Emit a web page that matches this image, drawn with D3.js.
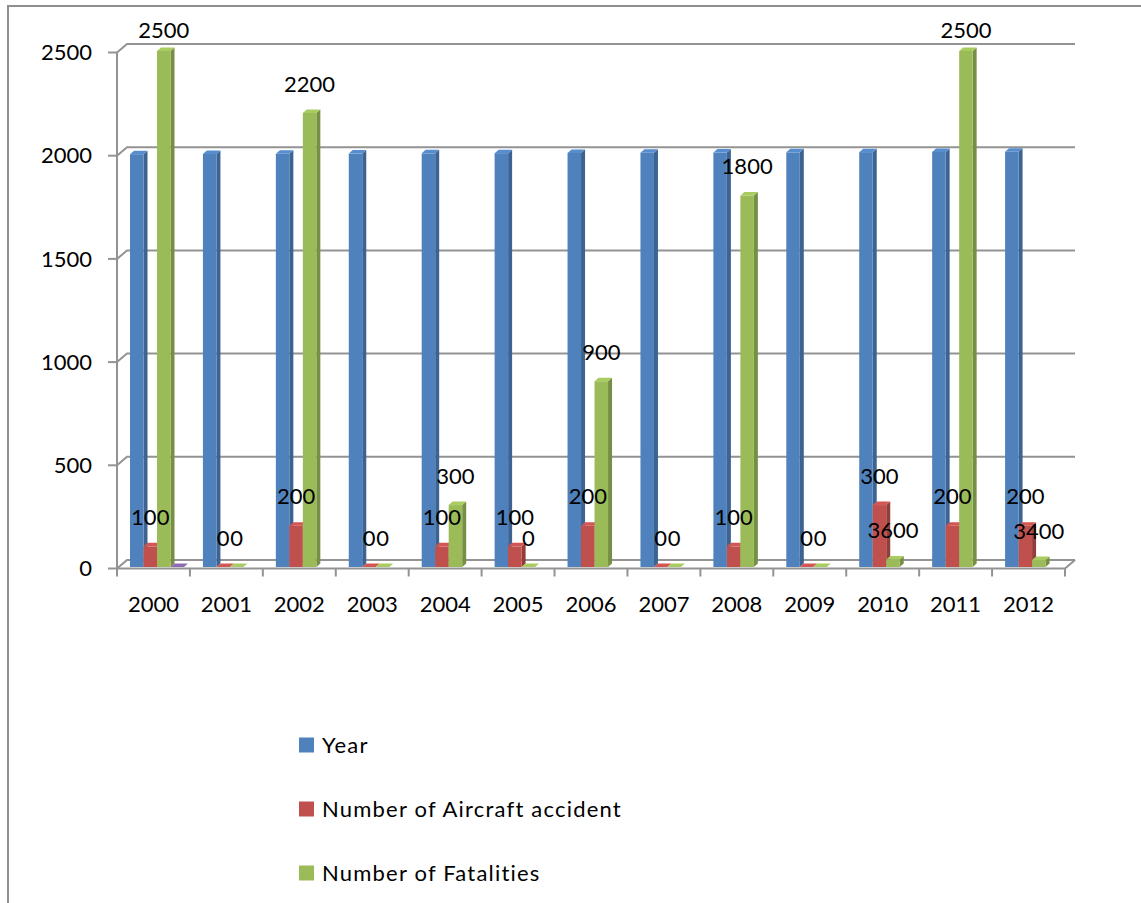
<!DOCTYPE html>
<html>
<head>
<meta charset="utf-8">
<script src="https://cdn.jsdelivr.net/npm/d3@7"></script>
<style>
  html, body { margin: 0; padding: 0; background: #fff; }
  svg { display: block; font-family: Lato, "Open Sans", sans-serif; }
</style>
</head>
<body>
<svg id="chart" width="1141" height="903"></svg>
<script>
// Aircraft accidents and fatalities per year
const years = ["2000","2001","2002","2003","2004","2005","2006","2007","2008","2009","2010","2011","2012"];
const yearValues = [2000,2001,2002,2003,2004,2005,2006,2007,2008,2009,2010,2011,2012];
const accidents = [100,0,200,0,100,100,200,0,100,0,300,200,200];
const fatalities = [2500,0,2200,0,300,0,900,0,1800,0,36,2500,34];
const fatalityLabels = ["2500","0","2200","0","300","0","900","0","1800","0","3600","2500","3400"];
const unnamedSeries = [0,null,null,null,null,null,null,null,null,null,null,null,null];
const yTicks = [0,500,1000,1500,2000,2500];
const seriesNames = ["Year","Number of Aircraft accident","Number of Fatalities"];
const seriesColors = ["#4F81BD","#C0504D","#9BBB59","#8064A2"];

const svg = d3.select("#chart");

// chart-area border (left and top edges visible)
svg.append("path")
  .attr("d", "M8,903 L8,6 L1141,6")
  .attr("fill", "none").attr("stroke", "#8f8f8f").attr("stroke-width", 2);

// front plane scales
const x = d3.scaleBand().domain(years).range([117, 1065]);
const y = d3.scaleLinear().domain([0, 2500]).range([568.5, 52.5]);
const slot = d3.scaleBand().domain([0,1,2,3]).range([13, 67]);

// depth offsets: wall depth and bar depth
const wallDX = 10, wallDY = -8.5;
const faceDX = 0, faceDY = -1.5;
const barDX = 4, barDY = -3.5;
const gridColor = "#939393";

const x0 = x.range()[0], x1 = x.range()[1];

// back-wall gridlines + side-wall diagonals
const grid = svg.append("g");
yTicks.forEach(v => {
  const yf = y(v);
  grid.append("path")
    .attr("d", `M${x0},${yf} L${x0 + wallDX},${yf + wallDY} L${x1 + wallDX},${yf + wallDY}`)
    .attr("fill", "none").attr("stroke", gridColor).attr("stroke-width", 2);
});
// floor front edge and right edge
grid.append("path")
  .attr("d", `M${x0},${y(0)} L${x1},${y(0)} L${x1 + wallDX},${y(0) + wallDY}`)
  .attr("fill", "none").attr("stroke", gridColor).attr("stroke-width", 2);
// value axis line
grid.append("line")
  .attr("x1", x0).attr("x2", x0).attr("y1", y(2500)).attr("y2", y(0))
  .attr("stroke", gridColor).attr("stroke-width", 2);

// value axis ticks and labels
const yAxis = svg.append("g");
yTicks.forEach(v => {
  yAxis.append("line").attr("x1", x0 - 9).attr("x2", x0).attr("y1", y(v)).attr("y2", y(v))
    .attr("stroke", gridColor).attr("stroke-width", 2);
  yAxis.append("text").attr("x", 92).attr("y", y(v)).attr("dy", "0.35em")
    .attr("text-anchor", "end").attr("font-size", 22).attr("fill", "#000").text(v);
});

// category axis ticks and labels
const xAxis = svg.append("g");
years.forEach((c, i) => {
  const xs = x(c);
  xAxis.append("line").attr("x1", xs).attr("x2", xs).attr("y1", y(0)).attr("y2", y(0) + 8)
    .attr("stroke", gridColor).attr("stroke-width", 2);
  xAxis.append("text").attr("x", xs + x.bandwidth() / 2).attr("y", 604).attr("dy", "0.35em")
    .attr("text-anchor", "middle").attr("font-size", 22).attr("fill", "#000").text(c);
});
xAxis.append("line").attr("x1", x1).attr("x2", x1).attr("y1", y(0)).attr("y2", y(0) + 8)
  .attr("stroke", gridColor).attr("stroke-width", 2);

// 3D column: front, side and top faces
function drawBar(g, cat, s, v, color) {
  const xl = x(cat) + slot(s) + faceDX;
  const xr = xl + slot.bandwidth();
  const yb = y(0) + faceDY;
  const yt = y(v) + faceDY;
  const base = d3.color(color);
  const gFront = g.append("g");
  gFront.append("polygon")
    .attr("points", `${xr},${yt} ${xr + barDX},${yt + barDY} ${xr + barDX},${yb + barDY} ${xr},${yb}`)
    .attr("fill", base.darker(0.75));
  if (yb - yt > 0.5) {
    gFront.append("rect").attr("x", xl).attr("y", yt).attr("width", xr - xl).attr("height", yb - yt)
      .attr("fill", color);
  }
  gFront.append("polygon")
    .attr("points", `${xl},${yt} ${xr},${yt} ${xr + barDX},${yt + barDY} ${xl + barDX},${yt + barDY}`)
    .attr("fill", base.brighter(0.25));
}

const bars = svg.append("g");
const seriesData = [yearValues, accidents, fatalities, unnamedSeries];
years.forEach((c, i) => {
  seriesData.forEach((arr, s) => {
    if (arr[i] !== null) drawBar(bars, c, s, arr[i], seriesColors[s]);
  });
});

// data labels for accidents and fatalities
const labels = svg.append("g").attr("font-size", 22).attr("fill", "#000").attr("text-anchor", "middle");
function labelY(v) { return Math.max(y(v) + faceDY - 29, 30); }
years.forEach((c, i) => {
  const cx1 = x(c) + slot(1) + slot.bandwidth() / 2;
  labels.append("text").attr("x", cx1).attr("y", labelY(accidents[i])).attr("dy", "0.35em")
    .text(String(accidents[i]));
  const cx2 = x(c) + slot(2) + slot.bandwidth() / 2;
  labels.append("text").attr("x", cx2).attr("y", labelY(fatalities[i])).attr("dy", "0.35em")
    .text(fatalityLabels[i]);
});

// legend
const legend = svg.append("g");
seriesNames.forEach((name, i) => {
  const ly = 745 + i * 64;
  legend.append("rect").attr("x", 299).attr("y", ly - 7.5).attr("width", 15).attr("height", 15)
    .attr("fill", seriesColors[i]);
  legend.append("text").attr("x", 322).attr("y", ly).attr("dy", "0.35em")
    .attr("font-size", 22).attr("letter-spacing", 1.2).attr("fill", "#000").text(name);
});
</script>
</body>
</html>
